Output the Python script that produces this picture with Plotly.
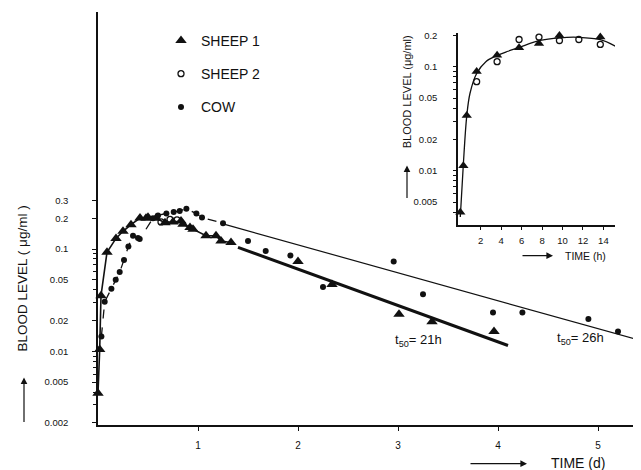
import plotly.graph_objects as go

# ---------------- data ----------------
# main chart, time in days
sheep1_t = [0.0, 0.017, 0.03, 0.09, 0.18, 0.25, 0.33, 0.42, 0.48, 0.5, 0.58, 0.67, 0.75, 0.83,
            0.85, 0.92, 0.95, 1.08, 1.18, 1.23, 1.33, 2.0, 2.34, 3.01, 3.34, 3.96]
sheep1_v = [0.0039, 0.0104, 0.035, 0.093, 0.127, 0.149, 0.173, 0.201, 0.2, 0.204, 0.2, 0.181, 0.184, 0.188,
            0.175, 0.162, 0.156, 0.135, 0.135, 0.12, 0.116, 0.0755, 0.045, 0.023, 0.0195, 0.0156]
sheep1_early_n = 21  # points joined by the early curve

sheep2_t = [0.63, 0.72, 0.79]
sheep2_v = [0.184, 0.195, 0.193]

cow_t = [0.034, 0.067, 0.134, 0.177, 0.217, 0.26, 0.304, 0.35, 0.4, 0.417, 0.55, 0.6, 0.684, 0.757,
         0.817, 0.884, 0.984, 1.04, 1.25, 1.5, 1.677, 1.924, 2.25, 2.957, 3.25, 3.95, 4.244, 4.904, 5.2]
cow_v = [0.014, 0.0305, 0.041, 0.05, 0.0595, 0.0783, 0.106, 0.135, 0.128, 0.125, 0.2, 0.213, 0.223, 0.23,
         0.236, 0.248, 0.222, 0.203, 0.179, 0.12, 0.0957, 0.0863, 0.0426, 0.0755, 0.0362, 0.0239, 0.0239,
         0.0207, 0.0156]
cow_early_n = 19

# elimination lines
sheep1_fit_t = [1.4, 4.1]
sheep1_fit_v = [0.104, 0.0114]
cow_fit_t = [1.25, 5.43]
cow_fit_v = [0.176, 0.0127]

# inset, time in hours
in_s1_t = [0, 0.3, 0.63, 1.6, 3.6, 5.75, 7.7, 9.7, 11.6, 13.7]
in_s1_v = [0.004, 0.0112, 0.034, 0.09, 0.129, 0.152, 0.167, 0.2, 0.216, 0.193]
in_s2_t = [1.6, 3.6, 5.75, 7.7, 9.7, 11.6, 13.7]
in_s2_v = [0.072, 0.112, 0.183, 0.193, 0.179, 0.183, 0.164]
in_curve_t = [0, 0.29, 0.63, 0.95, 1.6, 2.5, 3.56, 4.67, 5.74, 7.7, 9.76, 11.6, 13.7, 15.3]
in_curve_v = [0.0036, 0.0112, 0.0336, 0.0557, 0.0863, 0.112, 0.128, 0.141, 0.153, 0.178, 0.19, 0.192,
              0.182, 0.155]

main_ytick_vals = [0.002, 0.005, 0.01, 0.02, 0.05, 0.1, 0.2, 0.3]
main_ytick_text = ["0.002", "0.005", "0.01", "0.02", "0.05", "0.1", "0.2", "0.3"]
main_xtick_vals = [1, 2, 3, 4, 5]
in_ytick_vals = [0.005, 0.01, 0.02, 0.05, 0.1, 0.2]
in_ytick_text = ["0.005", "0.01", "0.02", "0.05", "0.1", "0.2"]
in_xtick_vals = [2, 4, 6, 8, 10, 12, 14]

# ---------------- layout helpers ----------------
OFF = 8                      # page body margin of the browser
W, H = 641 - OFF, 470 - OFF
ML, MR, MT = 98 - OFF, 0, 0
MB = H - (425 - OFF)
PW, PH = W - ML - MR, H - MT - MB


def px(x):  # reference window x -> paper fraction
    return (x - OFF - ML) / PW


def py(y):  # reference window y -> paper fraction
    return (H - MB - (y - OFF)) / PH


FONT = "Liberation Sans, Arial, sans-serif"
BLACK = "#111111"

minor_main = [m * 10 ** e for e in (-3, -2, -1) for m in range(2, 10)]
minor_main = [v for v in minor_main if 0.002 < v < 0.3 and v not in main_ytick_vals]
minor_in = [m * 10 ** e for e in (-3, -2, -1) for m in range(2, 10)]
minor_in = [v for v in minor_in if 0.0035 < v < 0.2 and v not in in_ytick_vals]

fig = go.Figure()

# main chart lines
fig.add_trace(go.Scatter(x=sheep1_t[:sheep1_early_n], y=sheep1_v[:sheep1_early_n], mode="lines",
                         line=dict(color=BLACK, width=1.6), showlegend=False, hoverinfo="skip"))
fig.add_trace(go.Scatter(x=cow_t[:cow_early_n], y=cow_v[:cow_early_n], mode="lines",
                         line=dict(color=BLACK, width=1.3, dash="dash"), showlegend=False, hoverinfo="skip"))
fig.add_trace(go.Scatter(x=sheep1_fit_t, y=sheep1_fit_v, mode="lines",
                         line=dict(color=BLACK, width=3), showlegend=False, hoverinfo="skip"))
fig.add_trace(go.Scatter(x=cow_fit_t, y=cow_fit_v, mode="lines",
                         line=dict(color=BLACK, width=1.2), showlegend=False, hoverinfo="skip"))

# main chart markers (legend)
fig.add_trace(go.Scatter(x=sheep1_t, y=sheep1_v, mode="markers", name="SHEEP 1", legendgroup="a",
                         marker=dict(symbol="triangle-up", size=10, color=BLACK), cliponaxis=False))
fig.add_trace(go.Scatter(x=sheep2_t, y=sheep2_v, mode="markers", name="SHEEP 2", legendgroup="b",
                         marker=dict(symbol="circle-open", size=6, color=BLACK, line=dict(width=1.3)),
                         cliponaxis=False))
fig.add_trace(go.Scatter(x=cow_t, y=cow_v, mode="markers", name="COW", legendgroup="c",
                         marker=dict(symbol="circle", size=6, color=BLACK), cliponaxis=False))

# inset
fig.add_trace(go.Scatter(x=in_curve_t, y=in_curve_v, mode="lines", xaxis="x2", yaxis="y2",
                         line=dict(color=BLACK, width=1.3, shape="spline"), showlegend=False,
                         hoverinfo="skip", cliponaxis=False))
fig.add_trace(go.Scatter(x=in_s2_t, y=in_s2_v, mode="markers", xaxis="x2", yaxis="y2", showlegend=False,
                         marker=dict(symbol="circle-open", size=6, color=BLACK, line=dict(width=1.3)),
                         cliponaxis=False))
fig.add_trace(go.Scatter(x=in_s1_t, y=in_s1_v, mode="markers", xaxis="x2", yaxis="y2", showlegend=False,
                         marker=dict(symbol="triangle-up", size=9, color=BLACK), cliponaxis=False))

axis_common = dict(showgrid=False, zeroline=False, showline=True, linecolor=BLACK, linewidth=1.5,
                   ticks="outside", tickcolor=BLACK, tickwidth=1, color=BLACK)

IN_TOP = -0.68
fig.update_layout(
    width=W, height=H,
    margin=dict(l=ML, r=MR, t=MT, b=MB, pad=0),
    paper_bgcolor="white", plot_bgcolor="rgba(0,0,0,0)",
    font=dict(family=FONT, color=BLACK, size=10),
    xaxis=dict(**axis_common, domain=[0, 1], range=[0, PW / 100.0], tickvals=main_xtick_vals,
               ticklen=4, ticklabelstandoff=6, tickfont=dict(size=10), anchor="y"),
    yaxis=dict(**axis_common, type="log", domain=[0, 1], range=[-2.72, -2.72 + PH / 103.3],
               tickvals=main_ytick_vals, ticktext=main_ytick_text, ticklen=4, ticklabelstandoff=22,
               tickfont=dict(size=9.5), anchor="x",
               minor=dict(tickvals=minor_main, ticks="outside", ticklen=3, tickcolor=BLACK)),
    xaxis2=dict(**axis_common, domain=[px(458), px(615)], range=[(458 - 460.3) / 10.22, (615 - 460.3) / 10.22],
                tickvals=in_xtick_vals, ticklen=3, ticklabelstandoff=3, tickfont=dict(size=9.5), anchor="y2"),
    yaxis2=dict(**axis_common, type="log", domain=[py(223), py(63.3 - (IN_TOP + 1) * 105)],
                range=[-2.52, IN_TOP],
                tickvals=in_ytick_vals, ticktext=in_ytick_text, ticklen=3, ticklabelstandoff=14,
                tickfont=dict(size=9.5), anchor="x2",
                minor=dict(tickvals=minor_in, ticks="outside", ticklen=3, tickcolor=BLACK)),
    legend=dict(x=px(161), y=py(21), xanchor="left", yanchor="top", bgcolor="rgba(0,0,0,0)",
                font=dict(size=14, family=FONT), tracegroupgap=12, itemclick=False),
)

ann = [
    dict(text="t<sub>50</sub>= 21h", x=px(418), y=py(340), font=dict(size=13)),
    dict(text="t<sub>50</sub>= 26h", x=px(580), y=py(338), font=dict(size=13)),
    dict(text="BLOOD LEVEL ( μg/ml )", x=px(22), y=py(277), textangle=-90, font=dict(size=13.5)),
    dict(text="TIME (d)", x=px(578), y=py(463), font=dict(size=14)),
    dict(text="BLOOD LEVEL (μg/ml)", x=px(407), y=py(89), textangle=-90, font=dict(size=11)),
    dict(text="TIME (h)", x=px(585), y=py(254), font=dict(size=10.5)),
]
for a in ann:
    fig.add_annotation(xref="paper", yref="paper", showarrow=False, xanchor="center", yanchor="middle", **a)

arrows = [
    (24, 377, 0, 46),     # main y arrow (tip, tail offset)
    (527, 464, -58, 0),   # main x arrow
    (407, 163, 0, 34),    # inset y arrow
    (553, 254, -32, 0),   # inset x arrow
]
for x, y, ax, ay in arrows:
    fig.add_annotation(xref="paper", yref="paper", x=px(x), y=py(y), ax=ax, ay=ay, text="",
                       showarrow=True, arrowhead=2, arrowsize=1.1, arrowwidth=1.2, arrowcolor=BLACK)

fig.write_html("out.html")
